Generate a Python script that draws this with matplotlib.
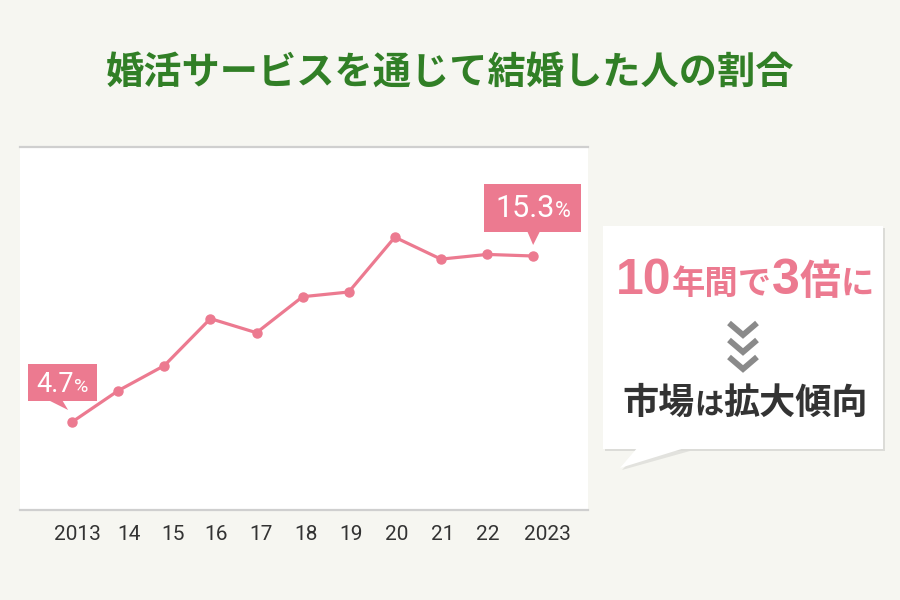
import matplotlib
matplotlib.use('Agg')
import matplotlib.pyplot as plt
from matplotlib.patches import Polygon, Rectangle
from matplotlib.lines import Line2D
from matplotlib.transforms import IdentityTransform

plt.rcParams['font.family'] = ['Noto Sans CJK JP', 'DejaVu Sans']

years = [2013, 2014, 2015, 2016, 2017, 2018, 2019, 2020, 2021, 2022, 2023]
rates = [4.7, 6.7, 8.3, 11.3, 10.4, 12.7, 13.0, 16.5, 15.1, 15.4, 15.3]
tick_labels = ['2013', '14', '15', '16', '17', '18', '19', '20', '21', '22', '2023']
# labels sit slightly off the points in the original layout (year units)
label_shift = [0.11, 0.23, 0.18, 0.13, 0.10, 0.08, 0.04, 0.03, 0.03, 0.01, 0.31]

title = '婚活サービスを通じて結婚した人の割合'
PINK = '#ec7a90'
BG = '#f6f6f1'

fig = plt.figure(figsize=(9, 6), dpi=100, facecolor=BG)
ax = fig.add_axes([20/900, 90/600, 568/900, 363/600])
ax.set_facecolor('white')
ax.plot(years, rates, color=PINK, lw=2.3, marker='o', ms=6.5, zorder=3, clip_on=False)
ax.set_xlim(2011.87, 2024.19)
ax.set_ylim(-0.92, 22.26)
for s in ['left', 'right']:
    ax.spines[s].set_visible(False)
for s in ['top', 'bottom']:
    ax.spines[s].set_color('#cfcfcf')
    ax.spines[s].set_linewidth(1.6)
ax.set_yticks([])
ax.set_xticks([y + d for y, d in zip(years, label_shift)], tick_labels)
ax.tick_params(axis='x', length=0, pad=11, labelsize=15, labelcolor='#333333')
for lb in ax.get_xticklabels():
    lb.set_fontfamily(['Roboto', 'DejaVu Sans'])

fig.text(0.5, 1 - 72/600, title, ha='center', va='center', fontsize=27.5,
         weight='bold', color='#317f26')

renderer = fig.canvas.get_renderer()
ID = IdentityTransform()


def runs(parts, cx, base, color, weight='normal'):
    # parts: (text, size, family)
    texts = []
    for s, size, fam in parts:
        t = fig.text(0, base, s, ha='left', va='baseline', fontsize=size,
                     color=color, weight=weight, transform=ID, family=fam, zorder=10)
        texts.append(t)
    widths = [t.get_window_extent(renderer).width for t in texts]
    x = cx - sum(widths) / 2
    for t, w in zip(texts, widths):
        t.set_position((x, base))
        x += w


def callout(i, box, ptr, text_base, parts):
    px, py = ax.transData.transform((years[i], rates[i]))
    x0, x1, y0, y1 = box
    fig.patches.append(Rectangle((px + x0, py + y0), x1 - x0, y1 - y0, transform=ID,
                                 facecolor=PINK, edgecolor='none', zorder=5))
    (bx0, bx1, by), (tx, ty) = ptr
    fig.patches.append(Polygon([(px + bx0, py + by + 1), (px + bx1, py + by + 1), (px + tx, py + ty)],
                               closed=True, transform=ID, facecolor=PINK, edgecolor='none', zorder=5))
    runs(parts, px + (x0 + x1) / 2, py + text_base, 'white')


rob = ['Roboto', 'DejaVu Sans']
callout(0, (-44, 25, 21, 58), ((-24, -10, 21), (-4, 12)), 30,
        [('4.7', 19.5, rob), ('%', 14, rob)])
callout(-1, (-49, 48, 24, 72), ((-6, 7, 24), (0, 11)), 39,
        [('15.3', 22, rob), ('%', 15.5, rob)])

# right message box (pixel coords, y up)
H = 600
bx0, bx1, by0, by1 = 603, 883, H - 449, H - 226
fig.patches.append(Rectangle((bx0 + 2, by0 - 2), bx1 - bx0, by1 - by0, transform=ID,
                             facecolor='#000000', alpha=0.10, edgecolor='none', zorder=6))
fig.patches.append(Polygon([(640, by0 - 2), (690, by0 - 2), (622, H - 470)], transform=ID,
                           facecolor='#000000', alpha=0.08, edgecolor='none', zorder=6))
fig.patches.append(Rectangle((bx0, by0), bx1 - bx0, by1 - by0, transform=ID,
                             facecolor='white', edgecolor='none', zorder=7))
fig.patches.append(Polygon([(638, by0 + 2), (688, by0 + 2), (620, H - 468)], transform=ID,
                           facecolor='white', edgecolor='none', zorder=7))

num = ['Liberation Sans', 'DejaVu Sans']
jp = ['Noto Sans CJK JP', 'DejaVu Sans']
runs([('10', 36, num), ('年間で', 24, jp), ('3', 36, num), ('倍', 29.5, jp), ('に', 24, jp)],
     745, H - 294, PINK, weight='bold')
runs([('市場', 26, jp), ('は', 21, jp), ('拡大傾向', 26, jp)], 745, H - 414, '#333333', weight='bold')

for y0 in [320, 337, 354]:
    fig.lines.append(Line2D([729, 743, 757], [H - y0 - 3, H - y0 - 15, H - y0 - 3], transform=ID,
                            color='#8a8a8a', lw=4.2, solid_joinstyle='miter',
                            solid_capstyle='butt', zorder=8))

fig.savefig('out.png', dpi=100, facecolor=BG)
